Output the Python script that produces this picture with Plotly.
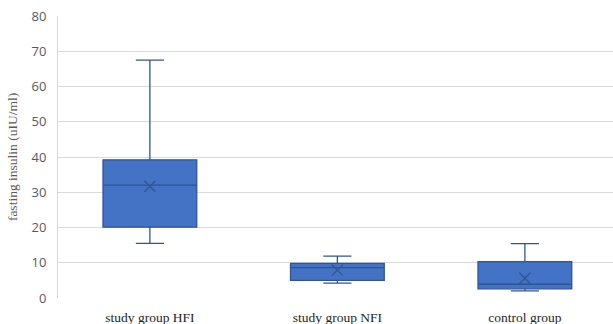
import plotly.graph_objects as go

categories = ["study group HFI", "study group NFI", "control group"]
q1 = [20.1, 5.0, 2.6]
median = [32.0, 8.6, 3.9]
q3 = [39.2, 9.8, 10.3]
lower_whisker = [15.5, 4.2, 2.0]
upper_whisker = [67.5, 11.9, 15.4]
means = [31.7, 7.9, 5.6]

fill_color = "#4472C4"
line_color = "#2F5597"

fig = go.Figure()
fig.add_trace(go.Box(
    x=categories, q1=q1, median=median, q3=q3,
    lowerfence=lower_whisker, upperfence=upper_whisker,
    fillcolor=fill_color, line=dict(color=line_color, width=1.3),
    width=0.5, whiskerwidth=0.3, boxpoints=False, showlegend=False,
    hoverinfo="skip",
))
fig.add_trace(go.Scatter(
    x=categories, y=means, mode="markers",
    marker=dict(symbol="x-thin-open", size=11, color=line_color,
                line=dict(color=line_color, width=1.3)),
    showlegend=False, hoverinfo="skip",
))

fig.update_layout(
    width=613, height=324,
    margin=dict(l=58, r=0, t=16, b=26, autoexpand=False),
    plot_bgcolor="white", paper_bgcolor="white",
    xaxis=dict(
        type="category", categoryorder="array", categoryarray=categories,
        range=[-0.49, 2.47],
        showgrid=False, showline=False, zeroline=False, automargin=False,
        tickfont=dict(family="Liberation Serif", size=13.5, color="#262626"),
        ticks="", ticklen=0, ticklabelstandoff=9,
    ),
    yaxis=dict(
        range=[0, 80], dtick=10, tick0=0, automargin=False,
        showgrid=True, gridcolor="#D9D9D9", gridwidth=1,
        showline=True, linecolor="#D9D9D9", linewidth=1,
        zeroline=False,
        tickfont=dict(family="Open Sans", size=13, color="#595959"),
        ticks="", ticklabelstandoff=8,
        title=dict(text="fasting insulin (uIU/ml)",
                   font=dict(family="Liberation Serif", size=13.5, color="#595959"),
                   standoff=10),
    ),
)

fig.write_html("out.html", config={"displayModeBar": False},
               post_script="document.body.style.margin='0';")
